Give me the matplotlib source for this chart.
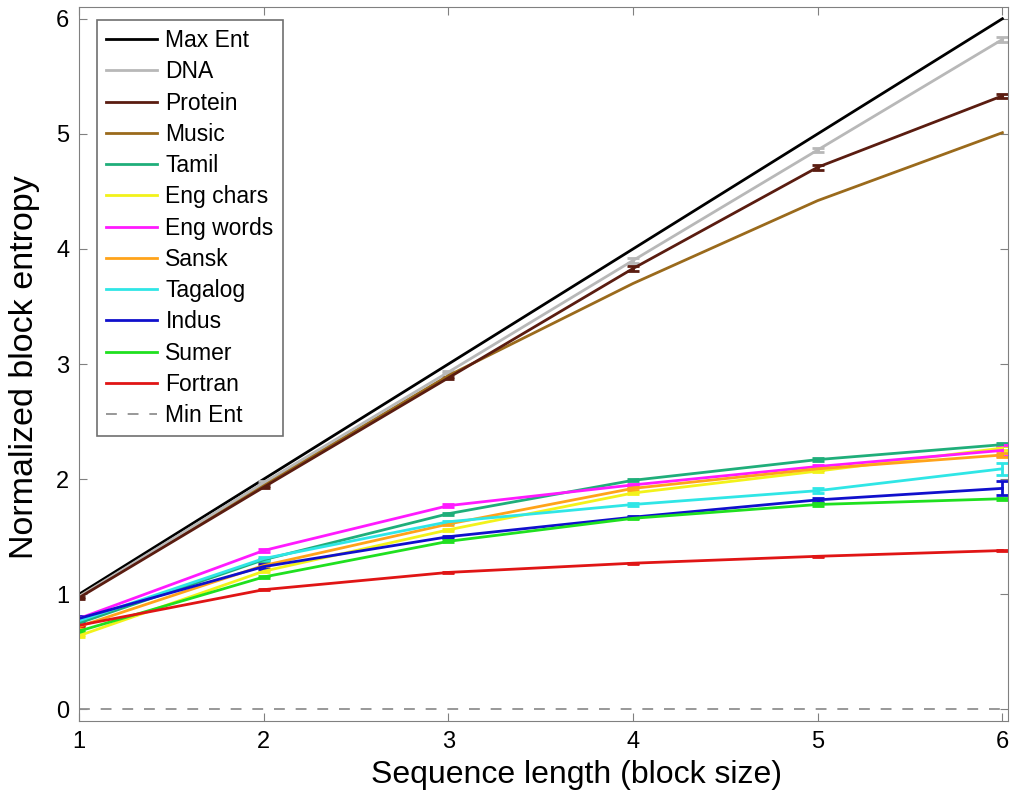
import numpy as np
import matplotlib
matplotlib.use("Agg")
import matplotlib.pyplot as plt

plt.rcParams['font.family'] = ['Liberation Sans', 'DejaVu Sans']

# block sizes
block_size = [1, 2, 3, 4, 5, 6]

# normalized block entropy per sequence type
max_ent = [1, 2, 3, 4, 5, 6]
dna = [0.98, 1.97, 2.93, 3.90, 4.86, 5.82]
protein = [0.97, 1.93, 2.88, 3.83, 4.71, 5.33]
music = [0.98, 1.95, 2.90, 3.70, 4.42, 5.01]
tamil = [0.75, 1.30, 1.70, 1.99, 2.17, 2.30]
eng_chars = [0.64, 1.20, 1.56, 1.88, 2.07, 2.27]
eng_words = [0.79, 1.38, 1.77, 1.95, 2.11, 2.25]
sansk = [0.72, 1.25, 1.61, 1.92, 2.09, 2.21]
tagalog = [0.77, 1.31, 1.63, 1.78, 1.90, 2.09]
indus = [0.79, 1.24, 1.50, 1.67, 1.82, 1.92]
sumer = [0.68, 1.15, 1.46, 1.66, 1.78, 1.83]
fortran = [0.73, 1.04, 1.19, 1.27, 1.33, 1.38]
min_ent = [0, 0, 0, 0, 0, 0]

# error bar half-widths
dna_err = [0.01, 0.01, 0.01, 0.02, 0.02, 0.02]
protein_err = [0.01, 0.01, 0.01, 0.02, 0.02, 0.02]
tamil_err = [0.01, 0.01, 0.01, 0.01, 0.01, 0.01]
eng_chars_err = [0.01, 0.01, 0.01, 0.01, 0.01, 0.02]
eng_words_err = [0.01, 0.01, 0.01, 0.01, 0.01, 0.05]
sansk_err = [0.01, 0.01, 0.01, 0.01, 0.01, 0.02]
tagalog_err = [0.01, 0.01, 0.01, 0.01, 0.02, 0.05]
indus_err = [0.02, 0.02, 0.01, 0.01, 0.02, 0.06]
sumer_err = [0.01, 0.01, 0.01, 0.01, 0.01, 0.01]
fortran_err = [0.005, 0.005, 0.005, 0.005, 0.005, 0.005]

series = [
    ("Max Ent", max_ent, None, "#000000"),
    ("DNA", dna, dna_err, "#b8b8b8"),
    ("Protein", protein, protein_err, "#5a1c10"),
    ("Music", music, None, "#9a6a1c"),
    ("Tamil", tamil, tamil_err, "#1fae7a"),
    ("Eng chars", eng_chars, eng_chars_err, "#f2f21a"),
    ("Eng words", eng_words, eng_words_err, "#ff1aff"),
    ("Sansk", sansk, sansk_err, "#ffa31a"),
    ("Tagalog", tagalog, tagalog_err, "#2fe6e6"),
    ("Indus", indus, indus_err, "#1010cc"),
    ("Sumer", sumer, sumer_err, "#1fe01f"),
    ("Fortran", fortran, fortran_err, "#e01515"),
]

fig = plt.figure(figsize=(10.13, 8.01), dpi=100)
ax = fig.add_axes([0.078, 0.1, 0.917, 0.891])

handles = []
labels = []
for name, vals, err, col in series:
    if err is None:
        h, = ax.plot(block_size, vals, color=col, lw=2)
    else:
        cont = ax.errorbar(block_size, vals, yerr=err, color=col, lw=2,
                           elinewidth=2, capsize=4, capthick=2)
        h = cont.lines[0]
    handles.append(h)
    labels.append(name)

h, = ax.plot(block_size, min_ent, color="#909090", lw=1.3, ls=(0, (6, 6)))
handles.append(h)
labels.append("Min Ent")

ax.set_xlim(1, 6.03)
ax.set_ylim(-0.1, 6.1)
ax.set_xticks(block_size)
ax.set_yticks([0, 1, 2, 3, 4, 5, 6])
ax.tick_params(direction="in", top=True, right=True, labelsize=17,
               length=6, color="#808080", pad=7)
for s in ax.spines.values():
    s.set_color("#808080")

ax.set_xlabel("Sequence length (block size)", fontsize=23)
ax.set_ylabel("Normalized block entropy", fontsize=24.5)
ax.xaxis.set_label_coords(0.536, -0.055)
ax.yaxis.set_label_coords(-0.042, 0.495)

leg = ax.legend(handles, labels, loc="upper left", fontsize=16.5,
                fancybox=False, edgecolor="#707070", framealpha=1,
                handlelength=2.25, handletextpad=0.35, labelspacing=0.36,
                borderaxespad=0, bbox_to_anchor=(0.019, 0.982))
leg.get_frame().set_linewidth(1.2)

fig.savefig("out.png", dpi=100)
